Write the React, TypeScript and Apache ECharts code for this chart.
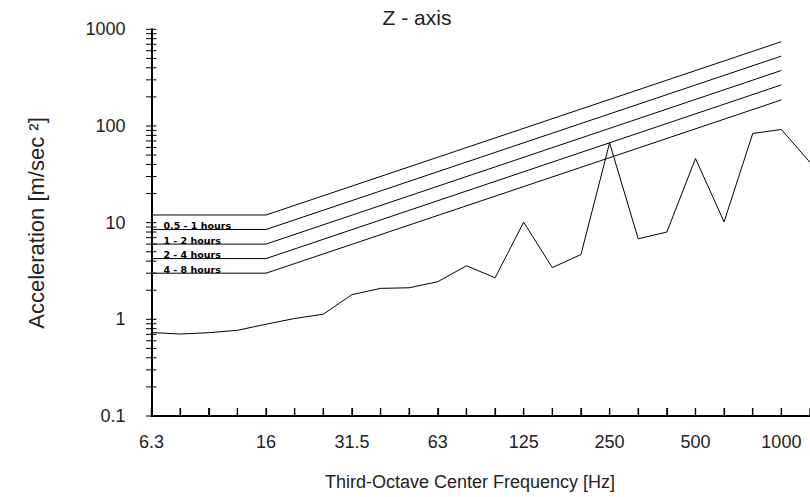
import React, { useEffect, useRef } from "react";
import * as echarts from "echarts";

// Third-octave centre frequencies (Hz)
const frequencies = ["6.3", "8", "10", "12.5", "16", "20", "25", "31.5", "40", "50", "63", "80", "100", "125", "160", "200", "250", "315", "400", "500", "630", "800", "1000", "1250"];
const labelledFrequencies = ["6.3", "16", "31.5", "63", "125", "250", "500", "1000"];

// Measured acceleration (m/s²)
const measured = [0.73, 0.705, 0.727, 0.77, 0.89, 1.02, 1.13, 1.8, 2.09, 2.12, 2.45, 3.58, 2.69, 10.1, 3.43, 4.68, 66.8, 6.8, 8.0, 46, 10.2, 83.6, 92, 42];

// Limit curves: flat value up to the knee, value at 1000 Hz
const limitFlat = [12, 8.5, 6, 4.25, 3];
const limitAt1000 = [745, 528, 375, 266, 186];
const limitStart = "6.3";
const limitKnee = "16";
const limitEnd = "1000";
const limitLabels = ["", "0.5 - 1 hours", "1 - 2 hours", "2 - 4 hours", "4 - 8 hours"];

const yMin = 0.1;
const yMax = 1000;
const yMinorMultipliers = [1, 2, 3, 4, 5, 6, 7, 8, 9];

const TEXT = "#222";
const FONT = "Liberation Sans, Arial, sans-serif";

export default function App() {
  const ref = useRef<HTMLDivElement>(null);

  useEffect(() => {
    if (!ref.current) return;
    const chart = echarts.init(ref.current, null, { renderer: "svg" });

    const startIdx = frequencies.indexOf(limitStart);
    const kneeIdx = frequencies.indexOf(limitKnee);
    const endIdx = frequencies.indexOf(limitEnd);

    const limitSeries = limitFlat.map((flat, i) => ({
      type: "line",
      name: "limit" + i,
      connectNulls: true,
      showSymbol: true,
      symbol: "circle",
      symbolSize: 0.1,
      itemStyle: { color: "#000" },
      lineStyle: { color: "#000", width: 1 },
      silent: true,
      z: 3,
      data: frequencies.map((_, idx) => {
        if (idx === startIdx) {
          return limitLabels[i]
            ? {
                value: flat,
                label: {
                  show: true,
                  formatter: limitLabels[i],
                  position: [12, -9],
                  fontSize: 9.5,
                  fontWeight: "bold",
                  fontFamily: "DejaVu Sans",
                  color: "#000",
                },
              }
            : flat;
        }
        if (idx === kneeIdx) return flat;
        if (idx === endIdx) return limitAt1000[i];
        return null;
      }),
    }));

    const yTicks: number[][] = [];
    for (let d = yMin; d < yMax * 1.01; d *= 10) {
      for (const m of yMinorMultipliers) {
        const v = Number((d * m).toPrecision(3));
        if (v <= yMax * 1.0001) yTicks.push([0, v]);
        if (v >= yMax * 0.999) break;
      }
    }
    // one tick per band; the y value only anchors the item inside the plot
    const xTicks = frequencies.map((f) => [f, 1]);

    const option = {
      animation: false,
      backgroundColor: "#fff",
      grid: { left: 151.5, right: -4.8, top: 29.3, bottom: 81, containLabel: false },
      xAxis: {
        type: "category",
        data: frequencies,
        boundaryGap: false,
        axisLine: { onZero: false, lineStyle: { color: "#000", width: 2 } },
        axisTick: { show: true, inside: true, length: 8, interval: 0, lineStyle: { color: "#000", width: 1.2 } },
        axisLabel: {
          interval: (idx: number, val: string) => labelledFrequencies.includes(val),
          margin: 17,
          fontSize: 18,
          color: TEXT,
          fontFamily: FONT,
        },
        splitLine: { show: false },
      },
      yAxis: {
        type: "log",
        logBase: 10,
        min: yMin,
        max: yMax,
        axisLine: { show: true, onZero: false, lineStyle: { color: "#000", width: 2 } },
        axisTick: { show: false },
        minorTick: { show: false },
        splitLine: { show: false },
        axisLabel: {
          margin: 26,
          fontSize: 18,
          color: TEXT,
          fontFamily: FONT,
          formatter: (v: number) => String(Number(v.toPrecision(3))),
        },
      },
      graphic: [
        {
          type: "text",
          x: 417,
          y: 17,
          style: { text: "Z - axis", fontSize: 21, fill: TEXT, fontFamily: FONT, textAlign: "center", textVerticalAlign: "middle" },
        },
        {
          type: "text",
          x: 470,
          y: 482,
          style: { text: "Third-Octave Center Frequency [Hz]", fontSize: 18, fill: TEXT, fontFamily: FONT, textAlign: "center", textVerticalAlign: "middle" },
        },
        {
          type: "text",
          x: 36,
          y: 223,
          rotation: Math.PI / 2,
          style: { text: "Acceleration [m/sec ²]", fontSize: 22, fill: TEXT, fontFamily: FONT, textAlign: "center", textVerticalAlign: "middle" },
        },
      ],
      series: [
        ...limitSeries,
        {
          type: "line",
          name: "measured",
          data: measured,
          showSymbol: false,
          lineStyle: { color: "#000", width: 1 },
          silent: true,
          z: 3,
        },
        {
          type: "custom",
          name: "yTicks",
          data: yTicks,
          encode: { x: 0, y: 1 },
          clip: false,
          silent: true,
          z: 4,
          renderItem: (_params: any, api: any) => {
            const p = api.coord([api.value(0), api.value(1)]);
            return {
              type: "line",
              shape: { x1: p[0] - 5.5, y1: p[1], x2: p[0] + 5, y2: p[1] },
              style: { stroke: "#000", lineWidth: 1 },
            };
          },
        },
        {
          type: "custom",
          name: "xTicks",
          data: xTicks,
          encode: { x: 0, y: 1 },
          clip: false,
          silent: true,
          z: 10,
          renderItem: (params: any, api: any) => {
            const p = api.coord([api.value(0), api.value(1)]);
            const cs = params.coordSys;
            const bottom = cs.y + cs.height;
            return {
              type: "rect",
              shape: { x: p[0] - 0.6, y: bottom - 8, width: 1.2, height: 8 },
              style: { fill: "#000" },
            };
          },
        },
      ],
    };

    chart.setOption(option as any);
    return () => chart.dispose();
  }, []);

  return <div ref={ref} style={{ position: "absolute", left: 0, top: 0, width: 810, height: 497 }} />;
}
